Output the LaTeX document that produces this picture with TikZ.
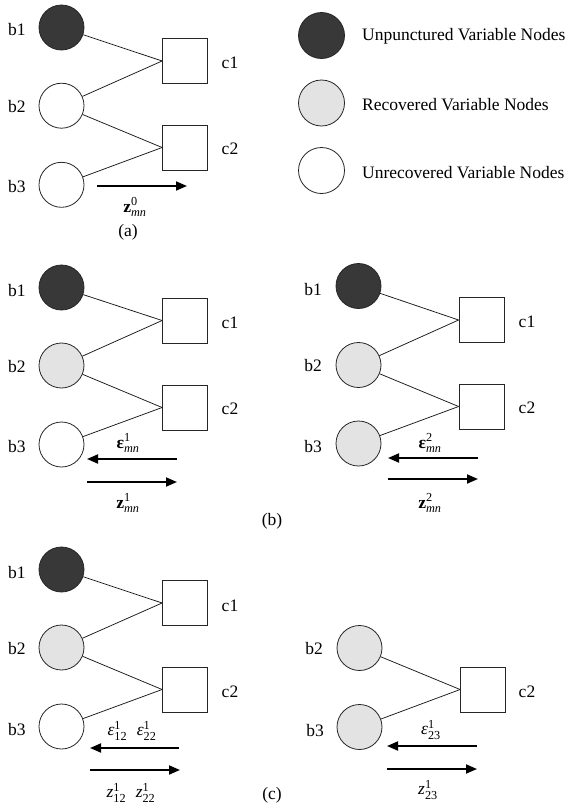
\documentclass[tikz,border=0pt]{standalone}
\usepackage{fontspec}
\usepackage{amsmath}
\setmainfont{Liberation Serif}
\usetikzlibrary{arrows.meta}
\tikzset{
  vn/.style={circle, draw=black!85, line width=0.8pt, inner sep=0pt, minimum size=45pt},
  unp/.style={vn, fill=black!78},
  rec/.style={vn, fill=black!11},
  unr/.style={vn, fill=white},
  cn/.style={rectangle, draw=black!85, line width=0.8pt, minimum size=45pt, inner sep=0pt, fill=white},
  lbl/.style={inner sep=0pt, font=\fontsize{17.5}{20}\selectfont},
  edge/.style={line width=0.75pt, draw=black!90},
  msg/.style={line width=1.8pt, -{Triangle[length=11pt,width=9pt]}},
}
\begin{document}
\begin{tikzpicture}[x=1pt,y=-1pt]
\useasboundingbox (0,0) rectangle (572,812);
% ---------- panel (a) ----------
\node[unp] (a-b1) at (61.5,27.5) {};
\node[unr] (a-b2) at (61.5,105.7) {};
\node[unr] (a-b3) at (61.5,184.8) {};
\node[cn] (a-c1) at (185,61) {};
\node[cn] (a-c2) at (185,147.5) {};
\node[lbl] (a-l1) at (17,30) {b1};
\node[lbl] (a-l2) at (17,107) {b2};
\node[lbl] (a-l3) at (17,187) {b3};
\node[lbl] (a-m1) at (230,63) {c1};
\node[lbl] (a-m2) at (230,149) {c2};
\draw[edge] (a-b1) -- (a-c1.west);
\draw[edge] (a-b2) -- (a-c1.west);
\draw[edge] (a-b2) -- (a-c2.west);
\draw[edge] (a-b3) -- (a-c2.west);
\coordinate (a-s) at (97,186);
\coordinate (a-e) at (187,186);
\draw[msg] (a-s) -- (a-e);
\node[lbl] (a-z) at (135,207) {$\text{\bfseries z}^{\text{0}}_{\text{\itshape mn}}$};
\node[lbl] (a-cap) at (128,232) {(a)};
% ---------- legend ----------
\node[unp, minimum size=46pt] (g1) at (321.5,35.5) {};
\node[rec, minimum size=46pt] (g2) at (321.5,103) {};
\node[unr, minimum size=46pt] (g3) at (321.5,170.5) {};
\node[lbl, anchor=west] (g1t) at (362,36) {Unpunctured Variable Nodes};
\node[lbl, anchor=west] (g2t) at (362,105) {Recovered Variable Nodes};
\node[lbl, anchor=west] (g3t) at (362,173) {Unrecovered Variable Nodes};
% ---------- panel (b) left ----------
\node[unp] (b-b1) at (61.5,287.5) {};
\node[rec] (b-b2) at (61.5,365.5) {};
\node[unr] (b-b3) at (61.5,444.5) {};
\node[cn] (b-c1) at (185,320.5) {};
\node[cn] (b-c2) at (185,407.5) {};
\node[lbl] (b-l1) at (17,291) {b1};
\node[lbl] (b-l2) at (17,367) {b2};
\node[lbl] (b-l3) at (17,447) {b3};
\node[lbl] (b-m1) at (230,323) {c1};
\node[lbl] (b-m2) at (230,409) {c2};
\draw[edge] (b-b1) -- (b-c1.west);
\draw[edge] (b-b2) -- (b-c1.west);
\draw[edge] (b-b2) -- (b-c2.west);
\draw[edge] (b-b3) -- (b-c2.west);
\coordinate (b-s1) at (177,459);
\coordinate (b-e1) at (87,459);
\coordinate (b-s2) at (87,482);
\coordinate (b-e2) at (177,482);
\draw[msg] (b-s1) -- (b-e1);
\draw[msg] (b-s2) -- (b-e2);
\node[lbl] (b-eps) at (128,443) {$\text{\bfseries ε}^{\text{1}}_{\text{\itshape mn}}$};
\node[lbl] (b-z) at (128,503) {$\text{\bfseries z}^{\text{1}}_{\text{\itshape mn}}$};
% ---------- panel (b) right ----------
\node[unp] (r-b1) at (358.5,286) {};
\node[rec] (r-b2) at (358.5,365) {};
\node[rec] (r-b3) at (358.5,443.5) {};
\node[cn] (r-c1) at (481.5,320) {};
\node[cn] (r-c2) at (481.5,406.5) {};
\node[lbl] (r-l1) at (313,290) {b1};
\node[lbl] (r-l2) at (313,366) {b2};
\node[lbl] (r-l3) at (313,447) {b3};
\node[lbl] (r-m1) at (527,322) {c1};
\node[lbl] (r-m2) at (527,408) {c2};
\draw[edge] (r-b1) -- (r-c1.west);
\draw[edge] (r-b2) -- (r-c1.west);
\draw[edge] (r-b2) -- (r-c2.west);
\draw[edge] (r-b3) -- (r-c2.west);
\coordinate (r-s1) at (478,458);
\coordinate (r-e1) at (388,458);
\coordinate (r-s2) at (388,479);
\coordinate (r-e2) at (478,479);
\draw[msg] (r-s1) -- (r-e1);
\draw[msg] (r-s2) -- (r-e2);
\node[lbl] (r-eps) at (430,443) {$\text{\bfseries ε}^{\text{2}}_{\text{\itshape mn}}$};
\node[lbl] (r-z) at (430,503) {$\text{\bfseries z}^{\text{2}}_{\text{\itshape mn}}$};
\node[lbl] (b-cap) at (272,521) {(b)};
% ---------- panel (c) left ----------
\node[unp] (c-b1) at (61.5,569.5) {};
\node[rec] (c-b2) at (61.5,647.5) {};
\node[unr] (c-b3) at (61.5,726.5) {};
\node[cn] (c-c1) at (185,603) {};
\node[cn] (c-c2) at (185,689.5) {};
\node[lbl] (c-l1) at (17,573) {b1};
\node[lbl] (c-l2) at (17,649) {b2};
\node[lbl] (c-l3) at (17,730) {b3};
\node[lbl] (c-m1) at (230,606) {c1};
\node[lbl] (c-m2) at (230,692) {c2};
\draw[edge] (c-b1) -- (c-c1.west);
\draw[edge] (c-b2) -- (c-c1.west);
\draw[edge] (c-b2) -- (c-c2.west);
\draw[edge] (c-b3) -- (c-c2.west);
\coordinate (c-s1) at (179,748);
\coordinate (c-e1) at (90,748);
\coordinate (c-s2) at (90,770);
\coordinate (c-e2) at (180,770);
\draw[msg] (c-s1) -- (c-e1);
\draw[msg] (c-s2) -- (c-e2);
\node[lbl] (c-eps) at (132,731) {$\text{\itshape ε}^{\text{1}}_{\text{12}}\;\;\text{\itshape ε}^{\text{1}}_{\text{22}}$};
\node[lbl] (c-z) at (131,793) {$\text{\itshape z}^{\text{1}}_{\text{12}}\;\;\text{\itshape z}^{\text{1}}_{\text{22}}$};
\node[lbl] (c-cap) at (272,795) {(c)};
% ---------- panel (c) right ----------
\node[rec] (d-b2) at (359.5,648) {};
\node[rec] (d-b3) at (359.5,727) {};
\node[cn] (d-c2) at (483,689.5) {};
\node[lbl] (d-l2) at (314,649) {b2};
\node[lbl] (d-l3) at (315,731) {b3};
\node[lbl] (d-m2) at (527,692) {c2};
\draw[edge] (d-b2) -- (d-c2.west);
\draw[edge] (d-b3) -- (d-c2.west);
\coordinate (d-s1) at (477,746);
\coordinate (d-e1) at (387,746);
\coordinate (d-s2) at (387,769);
\coordinate (d-e2) at (477,769);
\draw[msg] (d-s1) -- (d-e1);
\draw[msg] (d-s2) -- (d-e2);
\node[lbl] (d-eps) at (431,730) {$\text{\itshape ε}^{\text{1}}_{\text{23}}$};
\node[lbl] (d-z) at (428,790) {$\text{\itshape z}^{\text{1}}_{\text{23}}$};
\end{tikzpicture}
\end{document}
